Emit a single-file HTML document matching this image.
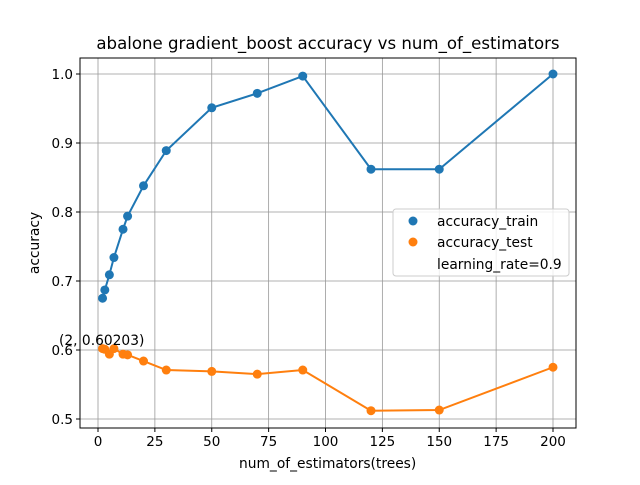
<!DOCTYPE html>
<html><head><meta charset="utf-8"><style>
body{margin:0;background:#fff;font-family:"Liberation Sans","DejaVu Sans",sans-serif}
svg text{font-family:"DejaVu Sans","Liberation Sans",sans-serif}
</style></head><body>
<svg id="c" width="640" height="480" xmlns="http://www.w3.org/2000/svg"></svg>
<script>
const xs=[2,3,5,7,11,13,20,30,50,70,90,120,150,200];
const train=[0.675,0.687,0.709,0.734,0.775,0.794,0.838,0.889,0.951,0.972,0.997,0.862,0.862,1.0];
const test=[0.602,0.601,0.594,0.602,0.594,0.593,0.584,0.571,0.569,0.565,0.571,0.512,0.513,0.575];
const xTicks=[0,25,50,75,100,125,150,175,200];
const yTicks=[0.5,0.6,0.7,0.8,0.9,1.0];
const L=80,R=576,T=58,B=428;
const X=v=>98+v*(553-98)/200;
const Y=v=>419-(v-0.5)*(419-74)/0.5;
const svg=document.getElementById('c');const NS='http://www.w3.org/2000/svg';
function mk(t,a,p){const e=document.createElementNS(NS,t);for(const k in a)e.setAttribute(k,a[k]);(p||svg).appendChild(e);return e;}
let e;
e=mk('text',{x:328,y:49,'text-anchor':'middle','font-size':16.6,fill:'#000'});e.textContent='abalone gradient_boost accuracy vs num_of_estimators';


xTicks.forEach(t=>{const x=X(t);
e=mk('line',{x1:x,x2:x,y1:T,y2:B,stroke:'#999','stroke-width':0.8});


mk('line',{x1:x,x2:x,y1:B,y2:B+4,stroke:'#000'});
e=mk('text',{x:x,y:B+18,'text-anchor':'middle','font-size':13.5});e.textContent=t;

});
yTicks.forEach(t=>{const y=Y(t);
e=mk('line',{x1:L,x2:R,y1:y,y2:y,stroke:'#999','stroke-width':0.8});


mk('line',{x1:L-4,x2:L,y1:y,y2:y,stroke:'#000'});
e=mk('text',{x:L-7,y:y+5,'text-anchor':'end','font-size':13.5});e.textContent=t.toFixed(1);

});
e=mk('rect',{x:L,y:T,width:R-L,height:B-T,fill:'none',stroke:'#000','stroke-width':1});


function series(vals,col,name){
e=mk('polyline',{points:xs.map((x,i)=>X(x)+','+Y(vals[i])).join(' '),fill:'none',stroke:col,'stroke-width':2});


xs.forEach((x,i)=>{e=mk('circle',{cx:X(x),cy:Y(vals[i]),r:4.5,fill:col});

});}
series(train,'#1f77b4','train');
series(test,'#ff7f0e','test');
e=mk('text',{x:59,y:345,'font-size':13.8});e.textContent='(2, 0.60203)';


e=mk('text',{x:239,y:468,'font-size':13.8});e.textContent='num_of_estimators(trees)';


e=mk('text',{x:39,y:243,'font-size':13.8,'text-anchor':'middle',transform:'rotate(-90 39 243)'});e.textContent='accuracy';


const lg=mk('g',{});


mk('rect',{x:393,y:209,width:176,height:67,rx:3,fill:'#fff','fill-opacity':0.8,stroke:'#ccc'},lg);
[['#1f77b4','accuracy_train',221],['#ff7f0e','accuracy_test',242],[null,'learning_rate=0.9',264]].forEach(([c,t,y])=>{
if(c)mk('circle',{cx:413,cy:y,r:4.5,fill:c},lg);
e=mk('text',{x:437,y:y+5,'font-size':13.8},lg);e.textContent=t;

});
</script>
</body></html>
